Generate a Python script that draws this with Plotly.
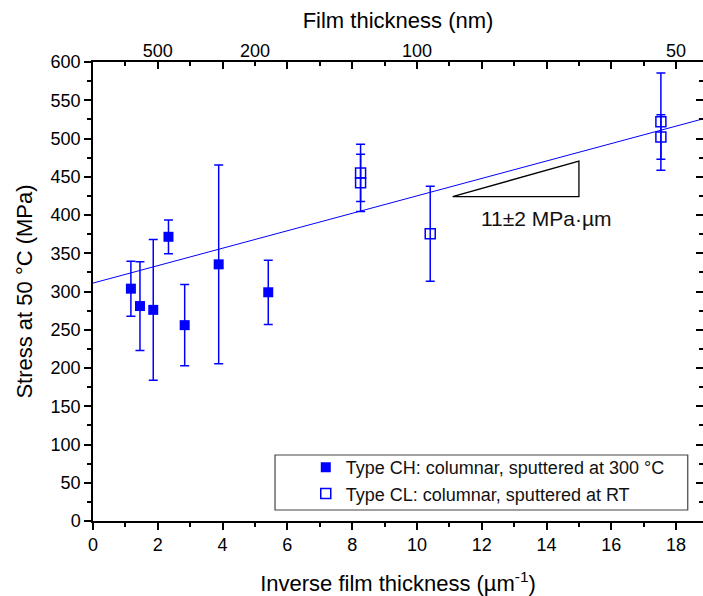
import plotly.graph_objects as go

# Type CH films: columnar, sputtered at 300 °C
ch_inv_thickness = [1.17, 1.45, 1.86, 2.33, 2.83, 3.88, 5.41]
ch_stress = [303.7, 281, 276, 371.5, 256, 335.5, 299]
ch_err = [36, 58, 92, 22, 53, 130, 42]

# Type CL films: columnar, sputtered at RT
cl_inv_thickness = [8.26, 8.26, 10.41, 17.53, 17.53]
cl_stress = [455, 442, 375.5, 522, 502]
cl_err = [37.5, 37.5, 62, 63.5, 29]

# Linear fit through all films (stress = intercept + slope / thickness)
fit_intercept = 311.0
fit_slope = 11.4
fit_x = [0.0, 18.85]
fit_y = [fit_intercept + fit_slope * v for v in fit_x]

# Slope triangle
tri_x = [11.1, 15.0, 15.0, 11.1]
tri_y = [424, 424, 470.5, 424]
slope_label = "11±2 MPa·µm"

# Top axis: film thickness labels
top_tick_pos = [2, 5, 10, 18]
top_tick_text = ["500", "200", "100", "50"]

X_MAX = 18.83
BLUE = "#0000FF"
FONT = "Arial, Liberation Sans, sans-serif"

fig = go.Figure()

fig.add_trace(go.Scatter(
    x=fit_x, y=fit_y, mode="lines",
    line=dict(color=BLUE, width=1), showlegend=False, hoverinfo="skip",
))

# Transparent copies of the fit so the mirrored frame axes get drawn
fig.add_trace(go.Scatter(
    x=fit_x, y=fit_y, mode="lines", xaxis="x2", yaxis="y2", opacity=0,
    line=dict(color=BLUE, width=1), showlegend=False, hoverinfo="skip",
))
fig.add_trace(go.Scatter(
    x=fit_x, y=fit_y, mode="lines", xaxis="x3", yaxis="y", opacity=0,
    line=dict(color=BLUE, width=1), showlegend=False, hoverinfo="skip",
))

fig.add_trace(go.Scatter(
    x=tri_x, y=tri_y, mode="lines",
    line=dict(color="black", width=1.3), showlegend=False, hoverinfo="skip",
))

fig.add_trace(go.Scatter(
    x=ch_inv_thickness, y=ch_stress, mode="markers",
    name="Type CH: columnar, sputtered at 300 °C",
    marker=dict(symbol="square", size=10, color=BLUE),
    error_y=dict(type="data", array=ch_err, color=BLUE, thickness=1.5, width=4.5),
))

fig.add_trace(go.Scatter(
    x=cl_inv_thickness, y=cl_stress, mode="markers",
    name="Type CL: columnar, sputtered at RT",
    marker=dict(symbol="square-open", size=10, color=BLUE, line=dict(width=1.5)),
    error_y=dict(type="data", array=cl_err, color=BLUE, thickness=1.5, width=4.5),
))

fig.add_annotation(
    x=14.0, y=396, text=slope_label, showarrow=False,
    font=dict(size=21, color="#111111", family=FONT),
)

# Legend frame
fig.add_shape(
    type="rect", xref="paper", yref="paper",
    x0=0.2984, x1=0.975, y0=0.024, y1=0.1438,
    line=dict(color="#444444", width=1.2), fillcolor="white", layer="below",
)

axis_common = dict(
    showgrid=False, zeroline=False, linecolor="black", linewidth=1.5,
    tickcolor="black", tickwidth=1.5,
    tickfont=dict(size=18, color="black", family=FONT),
)

fig.update_layout(
    width=703, height=596,
    margin=dict(l=93, r=0, t=62, b=75),
    paper_bgcolor="white", plot_bgcolor="white",
    font=dict(family=FONT, size=18, color="black"),
    xaxis=dict(
        range=[0, X_MAX], dtick=2, tick0=0, ticks="outside", ticklen=7,
        minor=dict(dtick=1, ticks="outside", ticklen=4, tickcolor="black", tickwidth=1.5),
        title=dict(text="Inverse film thickness (µm<sup>-1</sup>)",
                   font=dict(size=22, family=FONT), standoff=22),
        **axis_common,
    ),
    yaxis=dict(
        range=[0, 600], dtick=50, tick0=0, ticks="outside", ticklen=7,
        minor=dict(dtick=25, ticks="outside", ticklen=4, tickcolor="black", tickwidth=1.5),
        title=dict(text="Stress at 50 °C (MPa)", font=dict(size=22, family=FONT), standoff=12),
        **axis_common,
    ),
    xaxis2=dict(
        overlaying="x", side="top", anchor="y2", range=[0, X_MAX],
        dtick=2, tick0=0, ticks="inside", ticklen=7, showticklabels=False,
        minor=dict(dtick=1, ticks="inside", ticklen=4, tickcolor="black", tickwidth=1.5),
        showline=True, **axis_common,
    ),
    xaxis3=dict(
        overlaying="x", side="top", anchor="y", range=[0, X_MAX],
        tickmode="array", tickvals=top_tick_pos, ticktext=top_tick_text,
        ticks="", showline=False, showgrid=False, zeroline=False,
        tickfont=dict(size=18, color="black", family=FONT),
        title=dict(text="Film thickness (nm)", font=dict(size=22, family=FONT), standoff=6),
    ),
    yaxis2=dict(
        overlaying="y", side="right", anchor="x2", range=[0, 600],
        dtick=50, tick0=0, ticks="inside", ticklen=7, showticklabels=False,
        minor=dict(dtick=25, ticks="inside", ticklen=4, tickcolor="black", tickwidth=1.5),
        **axis_common, showline=False,
    ),
    legend=dict(
        x=0.298, y=0.157, xanchor="left", yanchor="top",
        bgcolor="rgba(0,0,0,0)", borderwidth=0,
        font=dict(size=18, family=FONT, color="#111111"),
        indentation=31, tracegroupgap=0,
    ),
)

fig.write_html("out.html")
